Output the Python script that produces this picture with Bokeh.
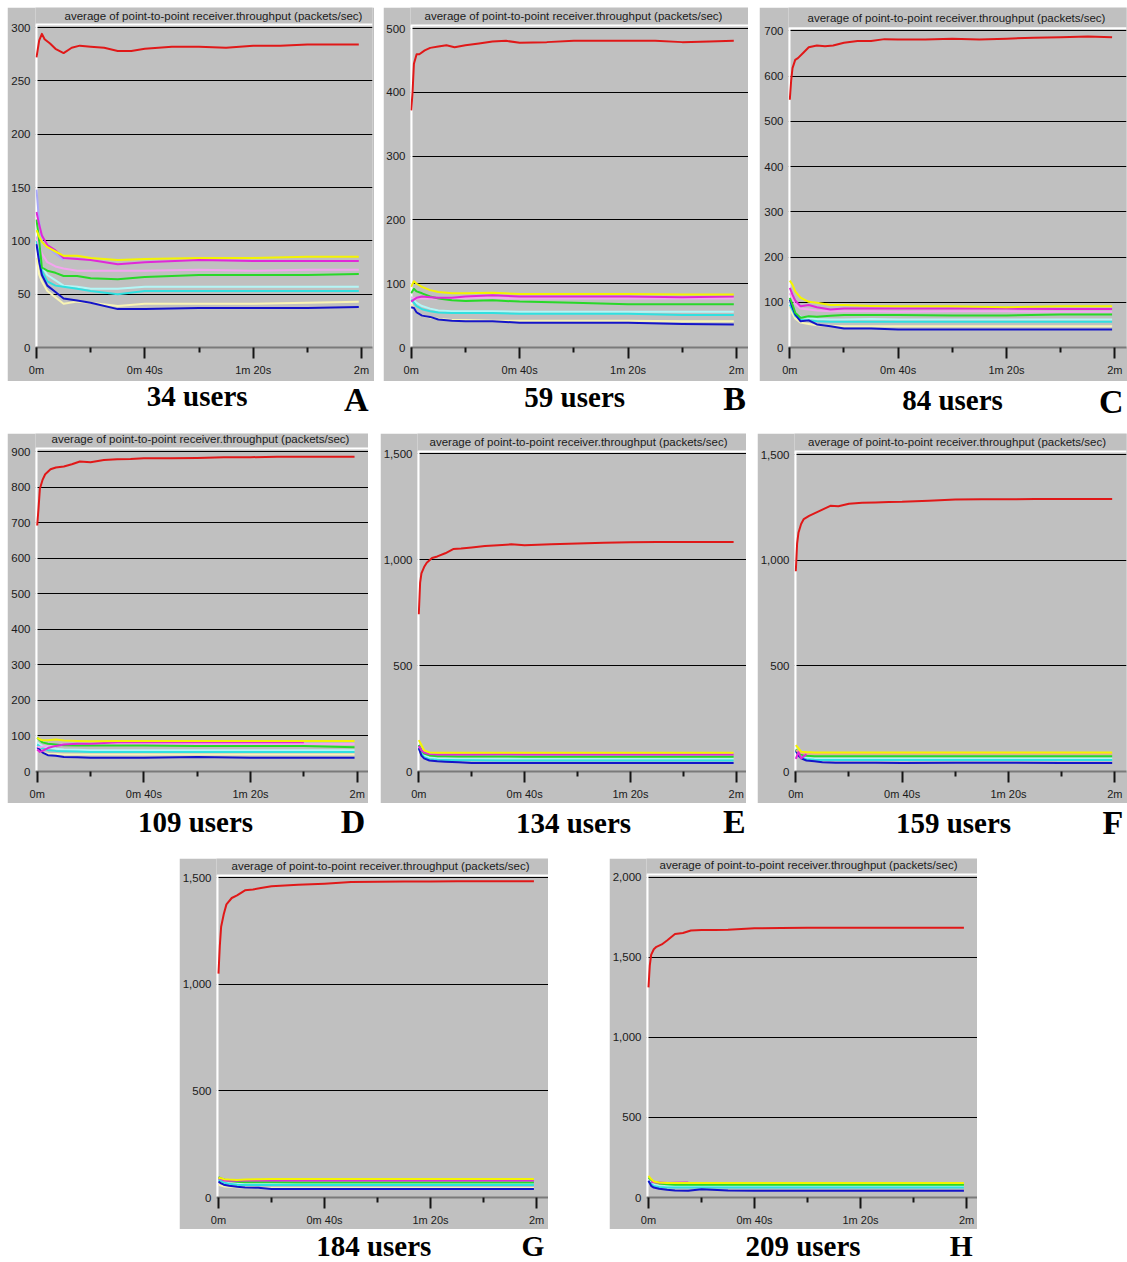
import math
from bokeh.plotting import figure
from bokeh.models import Range1d, FixedTicker, NumeralTickFormatter, Span, Spacer
from bokeh.layouts import row, column
from bokeh.embed import file_html
from bokeh.resources import INLINE
from bokeh.core.properties import value

NA = float("nan")

TITLE = "average of point-to-point receiver.throughput (packets/sec)"
X_TICKS = [0, 40, 80, 120]
X_MINOR = [20, 60, 100]
X_LABELS = ["0m", "0m 40s", "1m 20s", "2m"]

USERS = ["34 users", "59 users", "84 users", "109 users", "134 users", "159 users", "184 users", "209 users"]
LETTERS = ["A", "B", "C", "D", "E", "F", "G", "H"]

YTICKS_A = [0, 50, 100, 150, 200, 250, 300]
YTICKS_B = [0, 100, 200, 300, 400, 500]
YTICKS_C = [0, 100, 200, 300, 400, 500, 600, 700]
YTICKS_D = [0, 100, 200, 300, 400, 500, 600, 700, 800, 900]
YTICKS_E = [0, 500, 1000, 1500]
YTICKS_F = [0, 500, 1000, 1500]
YTICKS_G = [0, 500, 1000, 1500]
YTICKS_H = [0, 500, 1000, 1500, 2000]

# time (seconds)
T_RED = [0, 0.5, 1, 2, 3, 5, 7, 10, 13, 16, 20, 25, 30, 35, 40, 50, 60, 70, 80, 90, 100, 110, 119]
T_LOW = [0, 1, 2, 4, 7, 10, 15, 20, 30, 40, 60, 80, 100, 119]

# ---- panel A (34 users)
A_RED = [272, 280, 288, 294, 289, 285, 280, 276, 281, 283, 282, 281, 278, 278, 280, 282, 282, 281, 283, 283, 284, 284, 284]
A_LAVENDER = [148, 118, 100, 94, 88, 82, NA, NA, NA, NA, NA, NA, NA, NA]
A_CREAM = [84, 68, 62, 53, 47, 41, 43, 42, 39, 41, 41, 41, 42, 43]
A_LIGHTCYAN = [96, 85, 76, 68, 63, 58, 57, 55, 55, 57, 57, 57, 57, 57]
A_CYAN = [100, 84, 72, 62, 58, 57, 55, 53, 50, 53, 53, 53, 53, 53]
A_BLUE = [97, 80, 68, 58, 52, 46, 44, 42, 36, 36, 37, 37, 37, 38]
A_PINK = [104, 95, 88, 80, 76, 74, 72, 72, 72, 72, 73, 72, 73, 73]
A_GREEN = [120, 100, 75, 72, 70, 67, 67, 65, 64, 66, 68, 68, 68, 69]
A_MAGENTA = [127, 115, 105, 96, 91, 84, 83, 82, 78, 80, 82, 81, 81, 81]
A_YELLOW = [110, 104, 99, 94, 90, 86, 86, 84, 82, 83, 84, 84, 85, 85]

# ---- panel B (59 users)
B_RED = [372, 400, 445, 460, 460, 466, 470, 472, 474, 471, 474, 477, 480, 481, 478, 479, 481, 481, 481, 481, 479, 480, 481]
B_CREAM = [68, 62, 55, 50, 47, 45, 43, 43, 42, 42, 42, 42, 41, 41]
B_LIGHTCYAN = [80, 74, 70, 65, 61, 58, 57, 57, 57, 56, 56, 56, 56, 56]
B_CYAN = [75, 70, 65, 60, 57, 55, 54, 54, 54, 53, 53, 53, 51, 51]
B_BLUE = [63, 62, 55, 50, 48, 44, 42, 41, 41, 39, 39, 39, 37, 36]
B_PINK = [78, 78, 77, 77, 77, 76, 77, 78, 78, 77, 77, 77, 77, 77]
B_GREEN = [85, 92, 88, 85, 80, 77, 74, 73, 74, 72, 70, 68, 68, 68]
B_MAGENTA = [72, 75, 78, 80, 79, 78, 78, 80, 82, 80, 80, 80, 79, 80]
B_YELLOW = [95, 104, 100, 95, 90, 87, 85, 85, 86, 84, 84, 84, 83, 83]

# ---- panel C (84 users)
C_RED = [548, 590, 618, 636, 640, 652, 664, 668, 666, 668, 674, 678, 678, 682, 681, 681, 683, 681, 683, 685, 686, 688, 686]
C_CREAM = [90, 75, 64, 55, 52, 49, 48, 47, 47, 47, 47, 47, 47, 47]
C_LIGHTCYAN = [100, 88, 76, 68, 65, 63, 62, 62, 63, 62, 62, 62, 62, 62]
C_CYAN = [95, 82, 70, 62, 60, 58, 57, 57, 57, 57, 57, 57, 57, 57]
C_BLUE = [106, 88, 73, 58, 60, 51, 47, 42, 42, 40, 40, 40, 40, 40]
C_PINK = [120, 108, 96, 86, 84, 82, 80, 80, 80, 79, 80, 80, 79, 79]
C_GREEN = [110, 95, 77, 66, 69, 68, 70, 72, 72, 72, 71, 71, 73, 73]
C_MAGENTA = [132, 117, 104, 91, 94, 89, 84, 86, 86, 86, 86, 86, 85, 85]
C_YELLOW = [148, 139, 124, 110, 101, 99, 94, 94, 92, 91, 91, 89, 91, 91]

# ---- panel D (109 users)
D_RED = [692, 740, 795, 820, 836, 850, 855, 858, 864, 872, 870, 876, 878, 879, 881, 881, 882, 884, 884, 885, 885, 885, 885]
D_CREAM = [60, 56, 53, 50, 49, 48, 48, 48, 48, 48, 48, 48, 48, 48]
D_LIGHTCYAN = [82, 76, 72, 68, 64, 62, 61, 60, 60, 60, 60, 60, 60, 60]
D_CYAN = [76, 70, 65, 60, 58, 57, 56, 55, 55, 55, 55, 55, 55, 55]
D_BLUE = [68, 61, 53, 46, 44, 41, 40, 39, 39, 39, 41, 39, 39, 39]
D_PINK = [70, 68, 70, 74, 76, 76, 76, 76, 77, 77, 77, 77, 77, 77]
D_GREEN = [95, 88, 82, 78, 76, 74, 73, 73, 73, 73, 72, 72, 72, 68]
D_MAGENTA = [62, 55, 58, 66, 72, 76, 78, 78, 82, 82, 82, 82, 82, NA]
D_YELLOW = [95, 90, 88, 88, 90, 87, 86, 85, 86, 86, 86, 86, 86, 86]

# ---- panel E (134 users)
E_RED = [742, 890, 935, 965, 985, 1008, 1015, 1030, 1050, 1052, 1057, 1064, 1068, 1072, 1068, 1072, 1076, 1080, 1082, 1083, 1083, 1083, 1083]
E_LIGHTCYAN = [115, 90, 75, 66, 62, 61, 60, 60, 60, 60, 60, 60, 60, 60]
E_CYAN = [110, 85, 68, 58, 55, 54, 53, 53, 52, 52, 52, 52, 52, 52]
E_BLUE = [110, 75, 62, 52, 48, 46, 44, 40, 40, 40, 40, 40, 40, 40]
E_GREEN = [125, 100, 85, 76, 72, 72, 71, 71, 71, 70, 70, 70, 70, 70]
E_MAGENTA = [120, 100, 90, 82, 80, 80, 80, 80, 82, 80, 80, 80, 80, 80]
E_YELLOW = [148, 125, 100, 90, 88, 88, 88, 88, 88, 88, 88, 88, 88, 88]

# ---- panel F (159 users)
F_RED = [948, 1080, 1130, 1172, 1195, 1210, 1222, 1240, 1258, 1256, 1268, 1272, 1274, 1276, 1277, 1282, 1288, 1289, 1289, 1290, 1290, 1290, 1290]
F_LIGHTCYAN = [100, 85, 72, 64, 62, 62, 62, 62, 62, 62, 62, 62, 62, 62]
F_CYAN = [95, 80, 66, 58, 56, 55, 55, 55, 55, 55, 55, 55, 55, 55]
F_BLUE = [100, 75, 62, 52, 48, 44, 42, 42, 42, 40, 42, 42, 40, 40]
F_GREEN = [105, 90, 80, 74, 72, 72, 72, 72, 72, 72, 72, 72, 72, 72]
F_SALMON = [100, 95, 88, 84, 84, 84, 84, 84, 84, 84, 84, 84, 84, 84]
F_MAGENTA = [60, 92, 62, 82, NA, NA, NA, NA, NA, NA, NA, NA, NA, NA]
F_YELLOW = [125, 110, 94, 92, 90, 90, 90, 90, 90, 90, 90, 90, 90, 90]

# ---- panel G (184 users)
G_RED = [1050, 1180, 1270, 1330, 1375, 1405, 1417, 1441, 1445, 1452, 1460, 1464, 1467, 1469, 1472, 1480, 1481, 1482, 1482, 1483, 1483, 1483, 1483]
G_CREAM = [60, 56, 52, 50, 48, 46, 45, 45, 45, 45, 45, 45, 45, 45]
G_LIGHTCYAN = [80, 75, 70, 66, 65, 64, 64, 64, 64, 64, 64, 64, 64, 64]
G_CYAN = [85, 78, 70, 64, 60, 59, 59, 59, 59, 59, 59, 59, 59, 59]
G_BLUE = [75, 66, 60, 55, 50, 47, 46, 40, 40, 40, 40, 40, 40, 40]
G_GREEN = [95, 90, 84, 78, 74, 72, 72, 71, 70, 70, 70, 70, 70, 70]
G_MAGENTA = [90, 86, 80, 78, 78, 80, 80, 80, 80, 80, 80, 80, 80, 80]
G_YELLOW = [92, 90, 86, 84, 82, 84, 86, 87, 87, 87, 87, 87, 87, 87]

# ---- panel H (209 users)
H_RED = [1312, 1450, 1515, 1550, 1565, 1580, 1605, 1645, 1652, 1667, 1670, 1671, 1672, 1676, 1681, 1683, 1684, 1684, 1684, 1684, 1684, 1684, 1684]
H_LIGHTCYAN = [105, 90, 80, 72, 70, 69, 68, 68, 68, 68, 68, 68, 68, 68]
H_CYAN = [100, 85, 72, 65, 63, 62, 62, 62, 62, 62, 62, 62, 62, 62]
H_BLUE = [104, 73, 62, 55, 48, 44, 42, 51, 44, 42, 42, 42, 42, 42]
H_GREEN = [125, 110, 98, 88, 82, 80, 80, 79, 79, 79, 79, 79, 79, 79]
H_MAGENTA = [NA, 98, 95, 93, 90, 92, 94, NA, NA, NA, NA, NA, NA, NA]
H_YELLOW = [135, 115, 100, 94, 90, 90, 90, 90, 90, 90, 90, 90, 90, 90]

COLORS = {
    "lavender": "#A8A8F8", "cream": "#F8F4B4", "lightcyan": "#B4F6F6",
    "cyan": "#30E0E0", "blue": "#1414C8", "pink": "#F4A4F0",
    "green": "#28D828", "magenta": "#E028D8", "yellow": "#F4F400",
    "salmon": "#F0A888", "red": "#E01818",
}
GREY = "#C0C0C0"
PAGE_W = 1127

# ---- layout (page pixel coordinates)
TOP = 7
ROW1 = (7, 381)
ROW2 = (433, 803)
ROW3 = (858, 1229)
STRIPS = [(381, 433), (803, 858), (1229, 1262)]
LETTER_SIZES = ["34px", "34px", "29.5px"]

GEO = {
    "A": dict(box=(7, 374), frame=(35, 372, 24, 347), xcal=(36, 361), ycal=(347, 27), title=(213, 15)),
    "B": dict(box=(383, 748), frame=(410, 748, 25, 348), xcal=(410.7, 736), ycal=(348, 28.3), title=(573, 15.7)),
    "C": dict(box=(759, 1127), frame=(788, 1126, 28, 350), xcal=(789.3, 1114.3), ycal=(350, 30.7), title=(956, 17.7)),
    "D": dict(box=(7, 368), frame=(35, 368, 448, 771), xcal=(36.7, 356.7), ycal=(771, 451), title=(200, 438.3)),
    "E": dict(box=(380, 746), frame=(415, 746, 451, 773), xcal=(416.3, 735.7), ycal=(773, 453.3), title=(577, 441.7)),
    "F": dict(box=(757, 1127), frame=(793, 1126, 451, 773), xcal=(794.3, 1114.3), ycal=(773, 454.3), title=(956, 441.7)),
    "G": dict(box=(179, 548), frame=(214, 548, 875, 1198), xcal=(216, 536), ycal=(1198, 877.3), title=(379, 865.3)),
    "H": dict(box=(609, 977), frame=(644, 977, 874, 1197), xcal=(646, 966), ycal=(1197, 876.7), title=(807, 864.7)),
}
# visual centres of the caption texts
USER_POS = [(196.7, 395.5), (574.2, 396.7), (952, 399), (195, 821.7), (573, 822.5), (953, 822.5), (373.3, 1245.5), (802.5, 1245.5)]
LETTER_POS = [(355.8, 399), (734.2, 398.3), (1110.8, 400.5), (352.5, 820.8), (733.8, 820.8), (1112.5, 821.5), (532.5, 1245.5), (960.8, 1245.5)]

PANELS = [
    ("A", ROW1, YTICKS_A, A_RED, [("lavender", A_LAVENDER), ("cream", A_CREAM), ("lightcyan", A_LIGHTCYAN), ("cyan", A_CYAN), ("blue", A_BLUE), ("pink", A_PINK), ("green", A_GREEN), ("magenta", A_MAGENTA), ("yellow", A_YELLOW)]),
    ("B", ROW1, YTICKS_B, B_RED, [("cream", B_CREAM), ("lightcyan", B_LIGHTCYAN), ("cyan", B_CYAN), ("blue", B_BLUE), ("pink", B_PINK), ("green", B_GREEN), ("magenta", B_MAGENTA), ("yellow", B_YELLOW)]),
    ("C", ROW1, YTICKS_C, C_RED, [("cream", C_CREAM), ("lightcyan", C_LIGHTCYAN), ("cyan", C_CYAN), ("blue", C_BLUE), ("pink", C_PINK), ("green", C_GREEN), ("magenta", C_MAGENTA), ("yellow", C_YELLOW)]),
    ("D", ROW2, YTICKS_D, D_RED, [("cream", D_CREAM), ("lightcyan", D_LIGHTCYAN), ("cyan", D_CYAN), ("blue", D_BLUE), ("pink", D_PINK), ("green", D_GREEN), ("magenta", D_MAGENTA), ("yellow", D_YELLOW)]),
    ("E", ROW2, YTICKS_E, E_RED, [("lightcyan", E_LIGHTCYAN), ("cyan", E_CYAN), ("blue", E_BLUE), ("green", E_GREEN), ("magenta", E_MAGENTA), ("yellow", E_YELLOW)]),
    ("F", ROW2, YTICKS_F, F_RED, [("lightcyan", F_LIGHTCYAN), ("cyan", F_CYAN), ("blue", F_BLUE), ("green", F_GREEN), ("salmon", F_SALMON), ("magenta", F_MAGENTA), ("yellow", F_YELLOW)]),
    ("G", ROW3, YTICKS_G, G_RED, [("cream", G_CREAM), ("lightcyan", G_LIGHTCYAN), ("cyan", G_CYAN), ("blue", G_BLUE), ("green", G_GREEN), ("magenta", G_MAGENTA), ("yellow", G_YELLOW)]),
    ("H", ROW3, YTICKS_H, H_RED, [("lightcyan", H_LIGHTCYAN), ("cyan", H_CYAN), ("blue", H_BLUE), ("green", H_GREEN), ("magenta", H_MAGENTA), ("yellow", H_YELLOW)]),
]


def make_panel(key, rowy, yticks, red, lows):
    g = GEO[key]
    bx0, bx1 = g["box"]
    fl, fr, ft, fb = g["frame"]
    p0, p120 = g["xcal"]
    q0, qt = g["ycal"]
    w = bx1 - bx0
    h = rowy[1] - rowy[0]
    sx = (p120 - p0) / 120.0
    xs, xe = (fl - p0) / sx, (fr - p0) / sx
    sy = (q0 - qt) / yticks[-1]
    ys = (q0 - fb) / sy
    y_plot_top = (q0 - ft) / sy          # top edge of the chart area
    y_canvas_top = (q0 - rowy[0]) / sy   # frame extended up to the box top (title zone)

    p = figure(width=w, height=h, x_range=Range1d(xs, xe), y_range=Range1d(ys, y_canvas_top),
               title=None, output_backend="svg", toolbar_location=None,
               min_border_left=fl - bx0, min_border_right=bx1 - fr,
               min_border_top=0, min_border_bottom=rowy[1] - fb,
               background_fill_color=GREY, border_fill_color=GREY,
               outline_line_color=None)

    xa = p.xaxis[0]
    xa.ticker = FixedTicker(ticks=X_TICKS, minor_ticks=X_MINOR)
    xa.major_label_overrides = {t: l for t, l in zip(X_TICKS, X_LABELS)}
    xa.axis_line_color = "#7A7A7A"
    xa.axis_line_width = 2
    xa.major_tick_line_color = "#151515"
    xa.major_tick_line_width = 2
    xa.major_tick_out = 11
    xa.major_tick_in = 0
    xa.minor_tick_line_color = "#151515"
    xa.minor_tick_line_width = 2
    xa.minor_tick_out = 5
    xa.minor_tick_in = 0
    xa.major_label_text_font = "Liberation Sans"
    xa.major_label_text_font_size = "11px"
    xa.major_label_text_color = "#1A1A1A"
    xa.major_label_standoff = 5

    ya = p.yaxis[0]
    ya.ticker = FixedTicker(ticks=yticks)
    ya.formatter = NumeralTickFormatter(format="0,0")
    ya.axis_line_color = None
    ya.major_tick_line_color = None
    ya.major_tick_out = 0
    ya.major_tick_in = 0
    ya.minor_tick_line_color = None
    ya.major_label_text_font = "Liberation Sans"
    ya.major_label_text_font_size = "11.5px"
    ya.major_label_text_color = "#1A1A1A"
    ya.major_label_standoff = 5

    p.xgrid.visible = False
    p.ygrid.ticker = FixedTicker(ticks=yticks[1:])
    p.ygrid.grid_line_color = "#000000"
    p.ygrid.grid_line_width = 1

    # white bevel of the chart area (top and left edges)
    p.add_layout(Span(location=y_plot_top, dimension="width", line_color="white", line_width=2))
    p.segment(x0=[xs], y0=[ys], x1=[xs], y1=[y_plot_top], line_color="white", line_width=4)

    for ck, vals in lows:
        p.line(T_LOW, vals, line_color=COLORS[ck], line_width=2, line_join="round")
    p.line(T_RED, red, line_color=COLORS["red"], line_width=2, line_join="round")

    tcx, tcy = g["title"]
    p.text(x=[(tcx - p0) / sx], y=[(q0 - tcy) / sy], text=[TITLE],
           text_align="center", text_baseline="middle",
           text_font=value("Liberation Sans"), text_font_size="11.5px",
           text_color="#1A1A1A")
    return p


def make_strip(idx, y0, y1, letter_size):
    s = figure(width=PAGE_W, height=y1 - y0, x_range=Range1d(0, PAGE_W), y_range=Range1d(y1, y0),
               title=None, output_backend="svg", toolbar_location=None, min_border=0,
               min_border_left=0, min_border_right=0, min_border_top=0, min_border_bottom=0,
               x_axis_location=None, y_axis_location=None,
               background_fill_color="white", border_fill_color="white",
               outline_line_color=None)
    s.xgrid.visible = False
    s.ygrid.visible = False
    ux = [USER_POS[i][0] for i in idx]
    uy = [USER_POS[i][1] for i in idx]
    lx = [LETTER_POS[i][0] for i in idx]
    ly = [LETTER_POS[i][1] for i in idx]
    s.text(x=ux, y=uy, text=[USERS[i] for i in idx], text_font=value("Liberation Serif"),
           text_font_style="bold", text_font_size="29px", text_align="center",
           text_baseline="middle", text_color="black")
    s.text(x=lx, y=ly, text=[LETTERS[i] for i in idx], text_font=value("Liberation Serif"),
           text_font_style="bold", text_font_size=letter_size, text_align="center",
           text_baseline="middle", text_color="black")
    return s


figs = {k: make_panel(k, rowy, yt, red, lows) for k, rowy, yt, red, lows in PANELS}

r1h = ROW1[1] - ROW1[0]
r2h = ROW2[1] - ROW2[0]
r3h = ROW3[1] - ROW3[0]

row1 = row(Spacer(width=GEO["A"]["box"][0], height=r1h), figs["A"],
           Spacer(width=GEO["B"]["box"][0] - GEO["A"]["box"][1], height=r1h),
           figs["B"], Spacer(width=GEO["C"]["box"][0] - GEO["B"]["box"][1], height=r1h),
           figs["C"], spacing=0)
row2 = row(Spacer(width=GEO["D"]["box"][0], height=r2h), figs["D"],
           Spacer(width=GEO["E"]["box"][0] - GEO["D"]["box"][1], height=r2h),
           figs["E"], Spacer(width=GEO["F"]["box"][0] - GEO["E"]["box"][1], height=r2h),
           figs["F"], spacing=0)
row3 = row(Spacer(width=GEO["G"]["box"][0], height=r3h), figs["G"],
           Spacer(width=GEO["H"]["box"][0] - GEO["G"]["box"][1], height=r3h),
           figs["H"], Spacer(width=PAGE_W - GEO["H"]["box"][1], height=r3h), spacing=0)

page = column(Spacer(width=PAGE_W, height=TOP),
              row1, make_strip([0, 1, 2], *STRIPS[0], LETTER_SIZES[0]),
              row2, make_strip([3, 4, 5], *STRIPS[1], LETTER_SIZES[1]),
              row3, make_strip([6, 7], *STRIPS[2], LETTER_SIZES[2]), spacing=0)

open("out.html", "w").write(file_html(page, INLINE, title="throughput"))
